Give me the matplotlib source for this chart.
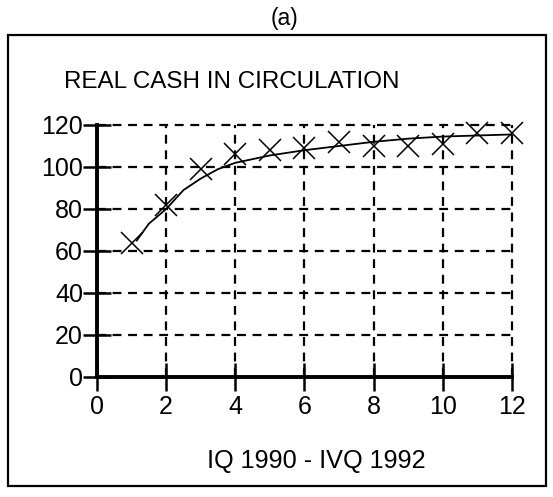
import matplotlib
matplotlib.use("Agg")
import matplotlib.pyplot as plt
from matplotlib.patches import Rectangle

# quarterly observations, IQ 1990 .. IVQ 1992
quarters = [1, 2, 3, 4, 5, 6, 7, 8, 9, 10, 11, 12]
real_cash = [64, 82, 99, 106, 108, 109, 112, 110, 110, 111, 116, 116]

# fitted curve
fit_x = [1.15, 1.5, 2, 2.5, 3, 3.5, 4, 5, 6, 7, 8, 9, 10, 11, 12]
fit_y = [65, 73, 80, 89, 94.5, 99, 102, 105.5, 108, 110, 112, 113.5, 114.5, 115, 115.5]

xticks = [0, 2, 4, 6, 8, 10, 12]
yticks = [0, 20, 40, 60, 80, 100, 120]

plt.rcParams["font.family"] = ["Liberation Sans", "DejaVu Sans"]

W, H = 553, 497
fig = plt.figure(figsize=(W / 100, H / 100), dpi=100)
ax = fig.add_axes([97 / W, 1 - 377 / H, (512 - 97) / W, (377 - 125) / H])

# outer frame round the panel
fig.patches.append(Rectangle((8 / W, 1 - 486 / H), (546 - 8) / W, (486 - 35) / H,
                             transform=fig.transFigure, fill=False,
                             edgecolor="black", lw=1.6))
fig.text(285 / W, 1 - 18 / H, "(a)", ha="center", va="center", fontsize=16.5)
fig.text(64 / W, 1 - 82 / H, "REAL CASH IN CIRCULATION", ha="left", va="center",
         fontsize=17.4)

ax.set_xlim(0, 12)
ax.set_ylim(0, 120)
for v in xticks[1:]:
    ax.axvline(v, color="black", ls=(0, (4, 3)), lw=1.6, zorder=1, clip_on=False)
for v in yticks[1:]:
    ax.axhline(v, color="black", ls=(0, (4, 3)), lw=1.6, zorder=1, clip_on=False)

ax.plot(fit_x, fit_y, color="black", lw=1.3, zorder=3)
ax.plot(quarters, real_cash, ls="none", marker="x", ms=16, mew=1.1,
        color="black", clip_on=False, zorder=4)

for s in ("top", "right"):
    ax.spines[s].set_visible(False)
for s in ("left", "bottom"):
    ax.spines[s].set_linewidth(2.8)
ax.set_xticks(xticks)
ax.set_yticks(yticks)
ax.tick_params(axis="both", direction="inout", length=20, width=1.8,
               labelsize=18, pad=0)
ax.tick_params(axis="x", pad=3)

fig.text(316 / W, 1 - 461 / H, "IQ 1990 - IVQ 1992", ha="center", va="center",
         fontsize=18.2)

fig.savefig("out.png", dpi=100)
